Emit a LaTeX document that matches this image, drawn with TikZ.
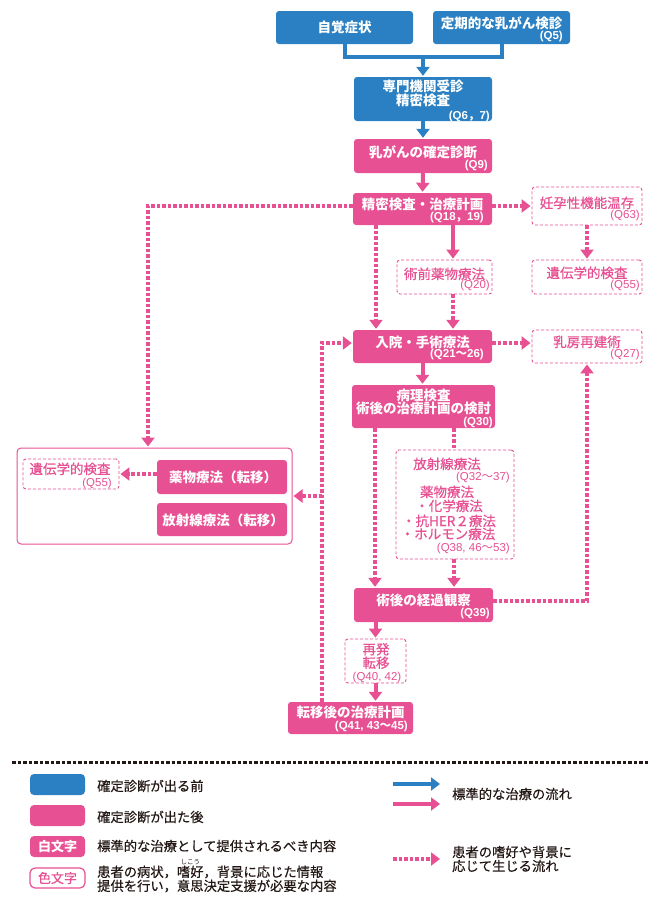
\documentclass[tikz,border=0pt]{standalone}
\usepackage{fontspec}
\newfontfamily\jp{Noto Sans CJK JP}
\newfontfamily\jpm{Noto Sans CJK JP}[FakeBold=0.5]
\newfontfamily\qf{Liberation Sans}
\usetikzlibrary{arrows.meta,fit}
\definecolor{bl}{RGB}{42,128,194}
\definecolor{pk}{RGB}{231,80,146}
\definecolor{tx}{RGB}{35,24,21}
\newcommand\fw[1]{{\jp #1}}
\newcommand\rbtext[2]{\leavevmode\setbox0=\hbox{#1}\rlap{\raisebox{0.94em}[0pt][0pt]{\makebox[\wd0]{\jp\fontsize{6.5}{6.5}\selectfont #2}}}\box0}
\begin{document}
\begin{tikzpicture}[x=1pt,y=-1pt,
  bbox/.style={fill=bl, rounded corners=3pt, inner sep=0pt},
  pbox/.style={fill=pk, rounded corners=3pt, inner sep=0pt},
  dbox/.style={draw=pk, line width=0.9pt, dash pattern=on 3pt off 2pt, rounded corners=3pt, fill=white, inner sep=0pt},
  gbox/.style={draw=pk, line width=1pt, rounded corners=4pt, fill=white, inner sep=0pt},
  wtm/.style={text=white, font=\jp\bfseries\fontsize{13.5}{13.5}\selectfont, inner sep=0pt, align=center},
  ctm/.style={text=pk, font=\jpm\fontsize{13.5}{13.5}\selectfont, inner sep=0pt, align=center},
  oneline/.style={text height=11pt, text depth=1pt},
  wt/.style={wtm, oneline},
  ct/.style={ctm, oneline},
  wq/.style={text=white, font=\qf\bfseries\fontsize{11.5}{12}\selectfont, inner sep=0pt, anchor=east, text height=8pt, text depth=2pt},
  cq/.style={text=pk, font=\qf\fontsize{11.5}{12}\selectfont, inner sep=0pt, anchor=east, text height=8pt, text depth=2pt},
  arrtip/.style={-{Triangle[width=13pt,length=9pt]}, shorten >=1pt},
  barr/.style={draw=bl, line width=4pt, arrtip},
  parr/.style={draw=pk, line width=4pt, arrtip},
  dline/.style={draw=pk, line width=4pt, dash pattern=on 3.5pt off 2pt},
  darr/.style={dline, arrtip},
  lt/.style={text=tx, font=\jpm\fontsize{13.3}{14}\selectfont, inner sep=0pt, anchor=west, align=left},
]
\useasboundingbox (0,0) rectangle (665,898);

% ---- top (blue) ----
\node[bbox, fit={(276,11) (413,44)}] (jikaku) {};
\node[wt] (jikakuT) at (jikaku.center) {自覚症状};
\node[bbox, fit={(433,11) (570,44)}] (kenshin) {};
\node[wt] (kenshinT) at (501.5,23) {定期的な乳がん検診};
\node[wq] (kenshinQ) at (563,36) {(Q5)};
\node[bbox, fit={(354,77) (492,121)}] (senmon) {};
\node[wtm] (senmonT) at (423,93.5) {専門機関受診\\精密検査};
\node[wq] (senmonQ) at (490,116) {(Q6\fw{，}7)};

% ---- pink main column ----
\node[pbox, fit={(354,139) (492,173)}] (kakutei) {};
\node[wt] (kakuteiT) at (423,152) {乳がんの確定診断};
\node[wq] (kakuteiQ) at (488,165) {(Q9)};
\node[pbox, fit={(353,193) (492,225)}] (seimitsu) {};
\node[wt] (seimitsuT) at (422.5,204) {精密検査・治療計画};
\node[wq] (seimitsuQ) at (484,217) {(Q18\fw{，}19)};
\node[dbox, fit={(532,187) (642,225)}] (ninyou) {};
\node[ct] (ninyouT) at (587,203) {妊孕性機能温存};
\node[cq] (ninyouQ) at (640,215.5) {(Q63)};
\node[dbox, fit={(532,260) (642,294)}] (iden1) {};
\node[ct] (iden1T) at (587,273) {遺伝学的検査};
\node[cq] (iden1Q) at (640,285.5) {(Q55)};
\node[dbox, fit={(397,260) (492,294)}] (jutsuzen) {};
\node[ct] (jutsuzenT) at (444.5,274) {術前薬物療法};
\node[cq] (jutsuzenQ) at (490,285.5) {(Q20)};
\node[pbox, fit={(353,330) (492,363)}] (nyuin) {};
\node[wt] (nyuinT) at (422.5,342) {入院・手術療法};
\node[wq] (nyuinQ) at (484,354) {(Q21\fw{～}26)};
\node[dbox, fit={(532,330) (642,363)}] (nyubo) {};
\node[ct] (nyuboT) at (587,342) {乳房再建術};
\node[cq] (nyuboQ) at (640,354) {(Q27)};
\node[pbox, fit={(352,385) (495,428)}] (byori) {};
\node[wtm] (byoriT) at (423.5,402) {病理検査\\術後の治療計画の検討};
\node[wq] (byoriQ) at (493,422) {(Q30)};
\node[dbox, fit={(396,450) (514,559)}] (hosha) {};
\node[ct] (hosha1) at (447,464) {放射線療法};
\node[cq] (hosha2) at (510,477.5) {(Q32\fw{～}37)};
\node[ct] (hosha3) at (447,492) {薬物療法};
\node[ct] (hosha4) at (449,506) {・化学療法};
\node[ct] (hosha5) at (449,521) {・抗HER２療法};
\node[ct] (hosha6) at (448,534) {・ホルモン療法};
\node[cq] (hosha7) at (510,548) {(Q38, 46\fw{～}53)};
\node[pbox, fit={(354,588) (493,622)}] (jutsugo) {};
\node[wt] (jutsugoT) at (423.5,600) {術後の経過観察};
\node[wq] (jutsugoQ) at (490,613) {(Q39)};
\node[dbox, fit={(345,639) (406,683)}] (saihatsu) {};
\node[ctm] (saihatsuT) at (376,656) {再発\\転移};
\node[cq, anchor=center] (saihatsuQ) at (377,677) {(Q40, 42)};
\node[pbox, fit={(288,702) (413,734)}] (teni) {};
\node[wt] (teniT) at (350.5,712) {転移後の治療計画};
\node[wq] (teniQ) at (408,726) {(Q41, 43\fw{～}45)};

% ---- left group ----
\node[gbox, fit={(17,448) (292,544)}] (lgroup) {};
\node[dbox, fit={(23,459) (119,489)}] (iden2) {};
\node[ct] (iden2T) at (70,469) {遺伝学的検査};
\node[cq] (iden2Q) at (112,483) {(Q55)};
\node[pbox, fit={(157,460) (287,494)}] (yakuten) {};
\node[wt] (yakutenT) at (223,477) {薬物療法（転移）};
\node[pbox, fit={(157,503) (287,536)}] (hoten) {};
\node[wt] (hotenT) at (223,520) {放射線療法（転移）};

% ---- connectors ----
\coordinate (jn) at (423,57);
\draw[draw=bl, line width=4pt] (jikaku.south) |- (jn) -| (kenshin.south);
\draw[barr] (jn) -- (senmon.north);
\draw[barr] (senmon.south) -- (kakutei.north);
\draw[parr] (kakutei.south) -- (seimitsu.north);
\coordinate (lx) at (148,0);
\draw[darr] ([yshift=3pt]seimitsu.west) -| (lx |- lgroup.north);
\draw[darr] ([yshift=3pt]seimitsu.east) -- (ninyou.west);
\draw[darr] (ninyou.south) -- (iden1.north);
\draw[darr] ([xshift=-46.5pt]seimitsu.south) -- ([xshift=-46.5pt]nyuin.north);
\draw[parr] ([xshift=30.5pt]seimitsu.south) -- ([xshift=30.5pt]seimitsu.south |- jutsuzen.north);
\draw[darr] ([xshift=8.5pt]jutsuzen.south) -- ([xshift=8.5pt]jutsuzen.south |- nyuin.north);
\draw[darr] ([yshift=3.5pt]nyuin.east) -- ([yshift=3.5pt]nyubo.west);
\draw[parr] (nyuin.south) -- (nyuin.south |- byori.north);
\draw[darr] ([xshift=-48.5pt]byori.south) -- ([xshift=-48.5pt]byori.south |- jutsugo.north);
\draw[dline] ([xshift=30.5pt]byori.south) -- ([xshift=30.5pt]byori.south |- hosha.north);
\draw[darr] ([xshift=-1pt]hosha.south) -- ([xshift=-1pt]hosha.south |- jutsugo.north);
\draw[darr] ([yshift=4pt]jutsugo.east) -| (nyubo.south);
\draw[parr] (saihatsu.north |- jutsugo.south) -- (saihatsu.north);
\draw[parr] (saihatsu.south) -- (saihatsu.south |- teni.north);
\coordinate (vx) at (322,0);
\draw[darr] (vx |- teni.north) |- ([yshift=3.5pt]nyuin.west);
\draw[darr] (vx |- lgroup.east) -- (lgroup.east);
\draw[darr] (yakuten.west |- iden2.east) -- (iden2.east);

% ---- legend ----
\coordinate (sepL) at (12,762);
\coordinate (sepR) at (648,762);
\draw[draw=tx, line width=3pt, dash pattern=on 3.5pt off 2pt] (sepL) -- (sepR);
\node[bbox, rounded corners=4pt, fit={(30,774) (85,795)}] (legB) {};
\node[lt] (legBT) at (97,786) {確定診断が出る前};
\node[pbox, rounded corners=4pt, fit={(30,805) (85,826)}] (legP) {};
\node[lt] (legPT) at (97,817) {確定診断が出た後};
\node[pbox, rounded corners=4pt, fit={(30,836) (85,857)}] (legW) {};
\node[wt, font=\jp\bfseries\fontsize{13}{13}\selectfont] (legWT) at (legW.center) {白文字};
\node[lt] (legWD) at (97,846) {標準的な治療として提供されるべき内容};
\node[gbox, line width=1.2pt, rounded corners=5pt, fit={(30,868) (85,888)}] (legC) {};
\node[ct, font=\jpm\fontsize{13}{13}\selectfont] (legCT) at (legC.center) {色文字};
\node[lt] (legCD) at (97,879) {患者の病状，\rbtext{嗜好}{しこう}，背景に応じた情報\\提供を行い，意思決定支援が必要な内容};
\coordinate (a1s) at (393,784);
\coordinate (a1e) at (441,784);
\coordinate (a2s) at (393,804);
\coordinate (a2e) at (441,804);
\coordinate (a3s) at (393,859);
\coordinate (a3e) at (441,859);
\draw[barr] (a1s) -- (a1e);
\draw[parr] (a2s) -- (a2e);
\draw[darr] (a3s) -- (a3e);
\node[lt] (legAT) at (452,794) {標準的な治療の流れ};
\node[lt] (legDT) at (452,859) {患者の嗜好や背景に\\応じて生じる流れ};
\end{tikzpicture}
\end{document}
